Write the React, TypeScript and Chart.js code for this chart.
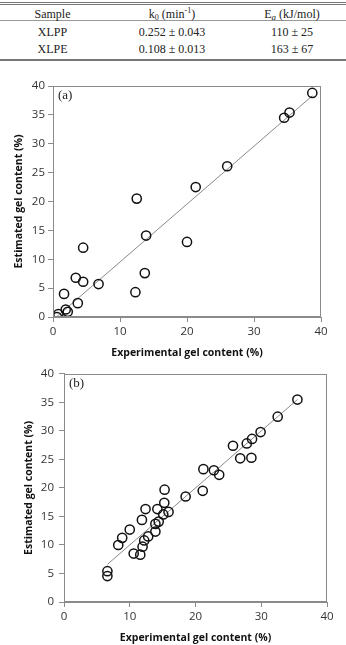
import React, { useEffect, useRef } from "react";
import { Chart, registerables } from "chart.js";

Chart.register(...registerables);

// Table data
const tableHeaders = ["Sample", "k0 (min-1)", "Ea (kJ/mol)"];
const samples = ["XLPP", "XLPE"];
const k0Values = ["0.252 ± 0.043", "0.108 ± 0.013"];
const eaValues = ["110 ± 25", "163 ± 67"];

// Chart (a)
const aExperimental = [38.7, 34.5, 35.3, 26.0, 21.3, 12.5, 13.9, 20.0, 4.5, 3.4, 4.5, 6.8, 13.7, 12.3, 1.65, 3.7, 1.9, 2.2, 0.8, 0.6];
const aEstimated = [38.8, 34.5, 35.4, 26.1, 22.5, 20.5, 14.1, 13.0, 12.0, 6.8, 6.1, 5.7, 7.6, 4.3, 4.0, 2.4, 1.3, 0.9, 0.5, 0.0];
const aFitX = [0.5, 38.7];
const aFitY = [0.0, 38.3];

// Chart (b)
const bExperimental = [35.5, 32.5, 29.9, 28.6, 27.8, 25.7, 26.8, 28.5, 21.2, 22.8, 23.6, 15.3, 21.1, 18.5, 15.25, 12.4, 14.2, 15.9, 15.1, 11.85, 14.4, 13.9, 13.9, 10.0, 8.85, 8.25, 12.8, 12.2, 11.95, 10.6, 11.6, 6.6, 6.6];
const bEstimated = [35.5, 32.5, 29.8, 28.6, 27.8, 27.4, 25.2, 25.3, 23.3, 23.1, 22.3, 19.7, 19.5, 18.5, 17.4, 16.3, 16.3, 15.8, 15.35, 14.4, 14.1, 13.7, 12.35, 12.7, 11.25, 10.0, 11.5, 10.8, 9.7, 8.5, 8.3, 5.4, 4.55];
const bFitX = [6.6, 35.5];
const bFitY = [6.6, 35.5];

const xTitle = "Experimental gel content (%)";
const yTitle = "Estimated gel content (%)";

const frameAndLabel = {
  id: "frameAndLabel",
  afterDraw(chart: any, _args: any, opts: any) {
    const { ctx, chartArea } = chart;
    ctx.save();
    ctx.strokeStyle = "#8a8a8a";
    ctx.lineWidth = 1;
    ctx.strokeRect(
      Math.round(chartArea.left) + 0.5,
      Math.round(chartArea.top) + 0.5,
      Math.round(chartArea.right - chartArea.left) - 1,
      Math.round(chartArea.bottom - chartArea.top) - 1
    );
    if (opts && opts.text) {
      ctx.fillStyle = "#222";
      ctx.font = "13px 'Liberation Serif'";
      ctx.textBaseline = "middle";
      ctx.textAlign = "left";
      ctx.fillText(opts.text, chartArea.left + 5, chartArea.top + 10);
    }
    ctx.restore();
  },
};

type PanelProps = {
  label: string;
  xs: number[];
  ys: number[];
  fitX: number[];
  fitY: number[];
  yAxisWidth: number;
  xAxisHeight: number;
  padTop: number;
  padRight: number;
  yTitlePad: number;
  yTickPad: number;
  xTitlePad: number;
  width: number;
  height: number;
};

function Panel(p: PanelProps) {
  const ref = useRef<HTMLCanvasElement>(null);
  useEffect(() => {
    if (!ref.current) return;
    const tickFont = { family: "'Open Sans'", size: 11.5 };
    const titleFont = { family: "'Open Sans'", size: 10.5, weight: "bold" as const };
    const chart = new Chart(ref.current, {
      type: "scatter",
      data: {
        datasets: [
          {
            label: "points",
            data: p.xs.map((x, i) => ({ x, y: p.ys[i] })),
            pointRadius: 4.6,
            pointBorderWidth: 1.5,
            pointBorderColor: "#111",
            pointBackgroundColor: "rgba(255,255,255,0)",
            showLine: false,
            order: 1,
          },
          {
            label: "fit",
            data: p.fitX.map((x, i) => ({ x, y: p.fitY[i] })),
            showLine: true,
            borderColor: "#8a8a8a",
            borderWidth: 1,
            pointRadius: 0,
            order: 2,
          },
        ],
      },
      options: {
        responsive: false,
        animation: false,
        layout: { padding: { top: p.padTop, right: p.padRight, left: 0, bottom: 0 } },
        plugins: {
          legend: { display: false },
          tooltip: { enabled: false },
          frameAndLabel: { text: p.label },
        } as any,
        scales: {
          x: {
            type: "linear",
            min: 0,
            max: 40,
            ticks: { stepSize: 10, font: tickFont, color: "#333", padding: 3, maxRotation: 0 },
            grid: { drawOnChartArea: false, drawTicks: true, tickLength: 5, color: "#8a8a8a" },
            border: { color: "#8a8a8a" },
            title: { display: true, text: xTitle, font: titleFont, color: "#111", padding: { top: 0, bottom: p.xTitlePad } },
            afterFit: (axis: any) => {
              axis.height = p.xAxisHeight;
            },
          },
          y: {
            type: "linear",
            min: 0,
            max: 40,
            ticks: { stepSize: 5, font: tickFont, color: "#333", padding: p.yTickPad },
            grid: { drawOnChartArea: false, drawTicks: true, tickLength: 5, color: "#8a8a8a" },
            border: { color: "#8a8a8a" },
            title: { display: true, text: yTitle, font: titleFont, color: "#111", padding: { top: p.yTitlePad, bottom: 0 } },
            afterFit: (axis: any) => {
              axis.width = p.yAxisWidth;
            },
          },
        },
      },
      plugins: [frameAndLabel],
    });
    return () => chart.destroy();
  }, []);
  return <canvas ref={ref} width={p.width} height={p.height} style={{ display: "block", width: p.width, height: p.height }} />;
}

const cell: React.CSSProperties = {
  position: "absolute",
  textAlign: "center",
  fontFamily: "'Liberation Serif', serif",
  fontSize: 12,
  color: "#222",
  lineHeight: "14px",
  whiteSpace: "nowrap",
};

const colLeft = [0, 112, 232];
const colWidth = [105, 120, 120];

export default function App() {
  const rowTops = [7, 25, 42];
  const rule = (top: number, h: number, color = "#777"): React.CSSProperties => ({
    position: "absolute",
    left: 0,
    top,
    width: 346,
    height: h,
    background: color,
  });
  return (
    <div style={{ position: "absolute", left: 0, top: 0, width: 346, height: 645, background: "#fff", overflow: "hidden" }}>
      <div style={rule(2, 1)} />
      <div style={rule(4, 1)} />
      <div style={rule(20, 1, "#999")} />
      <div style={rule(59, 1.5)} />
      <div style={{ ...cell, left: colLeft[0], width: colWidth[0], top: rowTops[0] }}>{tableHeaders[0]}</div>
      <div style={{ ...cell, left: colLeft[1], width: colWidth[1], top: rowTops[0] }}>
        k<sub style={{ fontSize: 8, verticalAlign: "-2px", lineHeight: 0 }}>0</sub> (min<sup style={{ fontSize: 8, verticalAlign: "5px", lineHeight: 0 }}>-1</sup>)
      </div>
      <div style={{ ...cell, left: colLeft[2], width: colWidth[2], top: rowTops[0] }}>
        E<sub style={{ fontSize: 9, verticalAlign: "-2px", lineHeight: 0, fontStyle: "italic" }}>a</sub> (kJ/mol)
      </div>
      {samples.map((s, i) => (
        <React.Fragment key={s}>
          <div style={{ ...cell, left: colLeft[0], width: colWidth[0], top: rowTops[i + 1] }}>{s}</div>
          <div style={{ ...cell, left: colLeft[1], width: colWidth[1], top: rowTops[i + 1] }}>{k0Values[i]}</div>
          <div style={{ ...cell, left: colLeft[2], width: colWidth[2], top: rowTops[i + 1] }}>{eaValues[i]}</div>
        </React.Fragment>
      ))}
      <div style={{ position: "absolute", left: 0, top: 70 }}>
        <Panel
          label="(a)"
          xs={aExperimental}
          ys={aEstimated}
          fitX={aFitX}
          fitY={aFitY}
          yAxisWidth={53}
          xAxisHeight={45}
          padTop={16}
          padRight={25}
          yTitlePad={13}
          yTickPad={3}
          xTitlePad={3}
          width={346}
          height={292}
        />
      </div>
      <div style={{ position: "absolute", left: 0, top: 362 }}>
        <Panel
          label="(b)"
          xs={bExperimental}
          ys={bEstimated}
          fitX={bFitX}
          fitY={bFitY}
          yAxisWidth={64}
          xAxisHeight={43}
          padTop={9}
          padRight={19}
          yTitlePad={23}
          yTickPad={5}
          xTitlePad={1}
          width={346}
          height={283}
        />
      </div>
    </div>
  );
}
